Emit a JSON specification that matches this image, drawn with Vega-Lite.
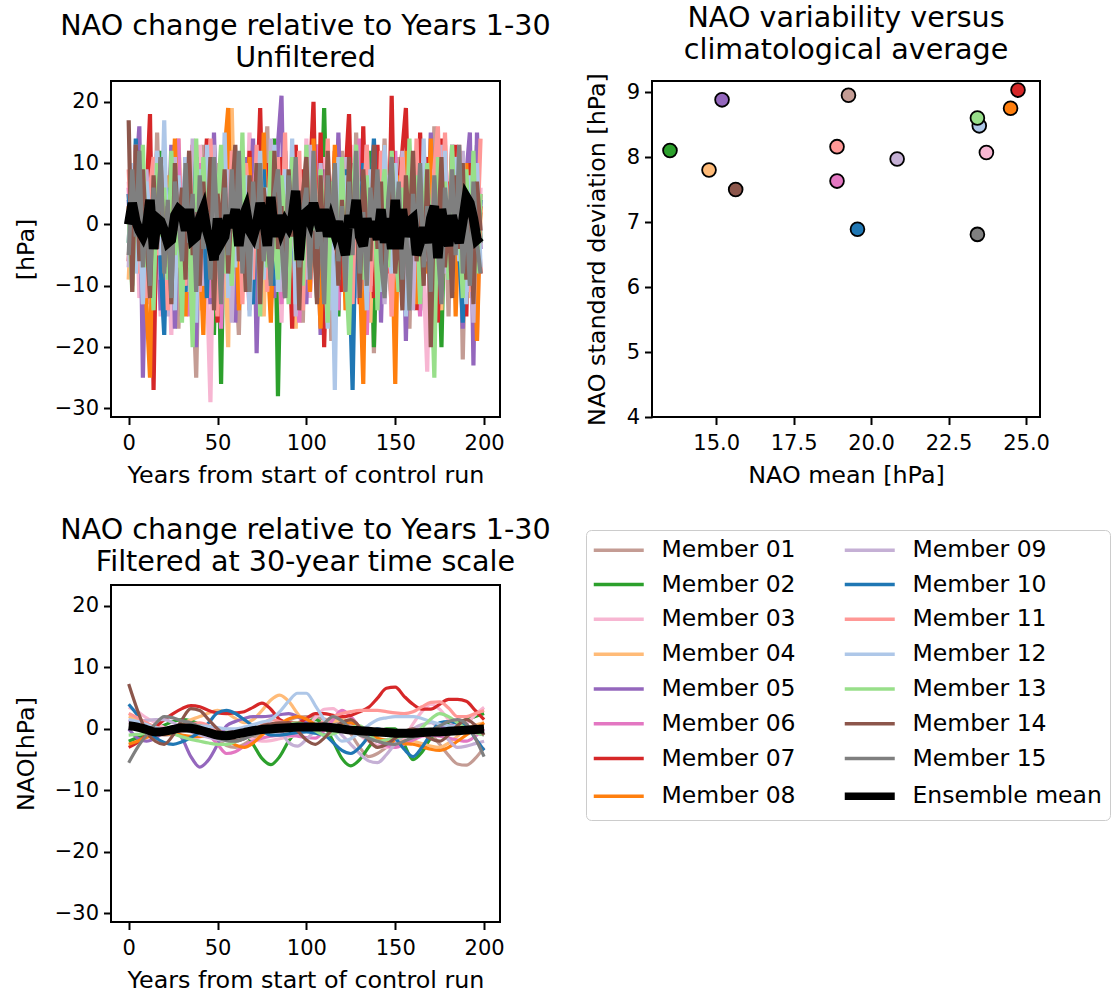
{
  "$schema": "https://vega.github.io/schema/vega-lite/v6.json",
  "background": "white",
  "padding": {"left": 13, "top": 3, "right": 5, "bottom": 2},
  "config": {
    "font": "DejaVu Sans",
    "view": {"stroke": "black", "strokeWidth": 2},
    "axis": {"grid": false, "domain": false, "tickColor": "black", "tickWidth": 2, "tickSize": 7.5, "labelFontSize": 21, "labelColor": "black", "titleFontSize": 23.8, "titleFontWeight": "normal", "titleColor": "black", "labelFlush": false, "labelOverlap": false},
    "axisX": {"labelPadding": 8, "titlePadding": 10},
    "axisY": {"labelPadding": 5, "titlePadding": 16},
    "title": {"fontSize": 28.6, "fontWeight": "normal", "color": "black", "offset": 8, "lineHeight": 32, "anchor": "middle"}
  },
  "datasets": {
    "unf": [{
      "t": [0,2,4,6,8,10,12,14,16,18,20,22,24,26,28,30,32,34,36,38,40,42,44,46,48,50,52,54,56,58,60,62,64,66,68,70,72,74,76,78,80,82,84,86,88,90,92,94,96,98,100,102,104,106,108,110,112,114,116,118,120,122,124,126,128,130,132,134,136,138,140,142,144,146,148,150,152,154,156,158,160,162,164,166,168,170,172,174,176,178,180,182,184,186,188,190,192,194,196,198],
      "Member 01": [5,-8,12,-3,-14,7,2,-10,15,-6,3,-12,9,1,-17,6,-4,11,-9,-25,4,13,-7,0,-15,10,-2,8,-11,14,-5,-18,6,2,-9,12,-3,-13,7,16,-8,1,-20,9,-4,5,-12,11,-1,-16,8,3,-7,13,-10,0,6,-19,10,-3,12,-8,2,-14,15,-5,7,-11,4,-21,9,-2,14,-6,-13,3,11,-9,1,-17,8,-4,13,-7,5,-12,16,-1,-10,6,-15,9,-3,12,-22,4,-8,10,-5,2],
      "Member 02": [-3,9,-6,13,-2,-11,6,1,-8,12,-14,4,-5,10,-1,-9,7,-4,11,-6,2,-12,8,-3,-18,5,-26,9,-2,6,-10,3,12,-7,1,-13,8,-5,10,-1,-8,14,-28,2,-9,6,-4,11,-3,7,-11,4,-6,13,-2,19,-7,0,9,-15,5,-3,10,-8,1,-12,7,-4,12,-20,3,-7,9,-1,-13,6,2,-10,11,-5,-2,8,-14,4,-6,12,-9,1,-20,7,-4,10,-7,3,-11,9,-1,-6,13,-3],
      "Member 03": [7,-5,10,-12,3,-1,14,-8,2,-15,9,-3,-18,6,12,-7,1,-10,8,-4,13,-2,-9,-29,5,-6,11,-1,-13,7,3,-11,9,-4,15,-8,0,-14,6,-2,10,-7,4,-16,8,-3,12,-9,1,-5,14,-12,6,-1,-8,11,-4,3,-17,9,-2,7,-10,13,-6,0,-13,8,-3,5,-9,12,-5,2,-15,10,-1,-7,6,-11,4,-3,11,-8,-24,7,-2,9,-12,14,-5,1,-10,8,-16,3,12,-6,-19,6],
      "Member 04": [-9,4,11,-6,2,-13,8,-1,6,-10,12,-4,3,-8,14,-2,-11,7,-5,9,-14,1,10,-7,5,-12,8,-3,-20,19,-6,2,-10,7,-1,13,-9,4,-15,6,10,-5,1,-12,8,-3,11,-17,5,-1,-8,12,-4,3,-13,9,-2,6,-11,14,-6,0,8,-14,4,-9,10,-3,-16,7,2,-10,12,-5,6,-12,1,9,-7,11,-4,3,-13,8,-1,10,-9,5,-14,13,-3,7,-10,2,11,-6,-12,8,-2,5],
      "Member 05": [4,-10,7,16,-25,3,12,-8,1,-14,9,-5,13,-17,2,-9,11,-3,6,-20,10,-6,1,-13,15,-4,-11,8,-2,12,-16,5,-8,11,-1,14,-21,3,9,-7,2,-12,13,21,-9,6,-15,10,-4,1,-13,12,-6,3,-18,9,-2,7,-10,15,-5,1,-14,10,-8,4,13,-12,2,-6,11,-16,5,-3,14,-9,0,8,-19,6,-2,12,-11,4,-7,15,-4,-14,9,1,-9,13,-6,3,-17,8,15,-23,15,-4],
      "Member 06": [6,-9,2,11,-5,-13,8,-2,12,-7,3,-11,9,-4,14,-8,1,-15,7,-3,10,-6,4,-12,8,-1,-17,5,13,-9,2,-7,11,-3,-14,6,9,-10,1,-5,12,-8,3,-13,7,-2,10,-6,-16,4,8,-11,1,13,-4,-9,6,-1,11,-14,5,-3,9,-12,2,14,-7,-18,4,10,-6,1,-10,7,-3,12,-8,5,-13,3,9,-5,-15,6,11,-2,-9,4,-12,8,-1,13,-7,2,-11,6,-4,10,-14,5],
      "Member 07": [-6,8,-3,12,-10,4,18,-27,9,-5,2,-12,11,-1,7,-15,6,-8,13,-4,-9,3,14,-7,1,-16,10,-2,5,-11,8,-13,4,-5,12,-9,2,19,-6,10,-14,6,-3,11,-8,1,-17,13,-4,9,-2,7,20,-10,15,-20,3,-6,12,-1,-11,8,18,-5,2,-13,16,-7,4,-12,13,-3,9,-8,21,-9,6,12,19,-4,8,-14,15,-2,11,-7,3,-16,14,-1,7,-10,13,-5,2,-15,10,-3,6,-8],
      "Member 08": [3,-9,12,-4,7,-13,-25,10,-2,6,-11,8,-1,14,-7,2,-15,9,-5,11,-3,-18,6,13,-10,1,-6,12,19,-8,4,-14,9,-2,11,-12,5,-7,15,-4,-16,7,2,-9,12,-5,10,-13,3,-1,8,-11,14,-3,-17,6,1,-8,13,-5,9,-14,4,-2,11,-7,-26,10,-4,7,-12,3,13,-6,1,-26,8,-9,12,-3,5,-13,10,-1,-8,14,-5,2,-11,9,-6,12,-15,4,-2,10,-9,7,-19,3],
      "Member 09": [-7,10,-2,5,-13,9,-4,1,12,-9,6,-15,3,11,-6,-1,8,-11,14,-3,2,-10,7,-5,13,-12,4,-1,9,-16,5,-3,12,-8,1,-13,10,-2,6,-10,14,-6,3,-11,8,-4,11,-15,2,7,-9,13,-1,-7,10,-3,5,-14,9,-5,1,11,-8,4,-12,7,-2,13,-10,3,-6,9,-13,2,8,-4,-11,12,-1,6,-14,5,10,-7,1,-12,9,-3,13,-8,4,-11,7,-2,12,-9,3,-16,8,-1],
      "Member 10": [5,-6,14,-2,8,-10,3,-4,9,-7,-18,6,-1,10,-5,2,-11,7,-3,11,-8,4,-12,8,1,-6,10,-4,3,-9,7,-2,11,-7,4,-13,6,-1,9,-5,2,-10,8,-3,12,-6,1,-9,5,-2,10,-7,3,-12,6,0,8,-5,-11,4,-3,9,-6,-27,5,-2,10,-8,3,14,-4,7,-10,2,8,-6,1,-12,6,-1,11,-5,3,-9,7,-3,-14,5,-1,8,-7,2,10,-4,-16,6,-2,9,-6,4],
      "Member 11": [9,-4,13,-8,2,-12,6,11,-5,-1,8,-14,4,10,-7,1,-10,12,-3,5,-11,7,-2,14,-6,-15,9,3,-8,12,-4,6,-13,10,1,-9,13,-5,4,-11,8,-2,11,-7,15,-10,3,-6,12,-14,5,-1,9,-12,7,-4,14,-8,2,-9,11,-3,6,-13,10,-6,1,13,-11,4,-7,12,-2,8,-15,6,-1,11,-9,3,-5,14,-10,7,2,-12,9,16,-4,15,-8,10,-2,13,-6,4,-11,9,-3,14],
      "Member 12": [-3,10,-8,4,-13,7,1,-10,12,-5,17,-9,3,-14,8,-2,11,-7,5,-16,9,-4,13,-1,-10,6,-6,15,-12,2,-7,11,-3,8,-15,4,-1,12,-9,6,-4,13,-11,2,9,-6,14,-13,1,-8,10,-3,6,-12,7,-2,-17,4,-27,11,-5,8,-10,3,12,-7,1,-14,9,-2,6,-11,13,-4,-8,10,-1,5,-15,11,-3,7,-12,14,-6,2,-10,8,-1,12,-9,4,11,-6,1,-13,8,-3,10,-7],
      "Member 13": [2,-11,8,-4,13,-7,1,-14,10,-2,6,-9,12,-5,3,-16,9,-1,-20,14,-6,11,-3,7,-12,4,13,-8,1,-10,9,-4,15,-11,5,-2,10,-15,6,-7,12,-3,-9,8,1,-13,11,-6,4,-10,13,-5,2,-12,9,-1,-16,7,3,-8,11,-6,-18,5,13,-2,-9,8,-4,10,-14,3,9,-7,12,-1,-11,6,-5,14,-3,8,-13,2,10,-6,-25,11,-2,7,-9,13,-4,1,-12,9,-6,12,-8,5],
      "Member 14": [17,-11,13,-6,9,-2,-12,8,-4,11,-7,3,-13,10,-1,6,-9,12,-5,2,-10,7,-3,11,-14,5,-1,9,-8,4,13,-6,1,-11,8,-3,10,-13,6,-1,-9,12,-4,3,-12,9,-2,7,-14,5,11,-5,-1,-13,8,-7,12,-2,5,-10,4,-8,11,-3,6,-12,9,-1,-6,13,-4,7,-11,2,10,-8,1,-14,8,-2,12,-6,3,-10,9,-20,5,-3,11,-7,2,-12,8,-4,10,-9,3,-13,7,-1],
      "Member 15": [-5,9,-2,12,-7,3,-10,6,-1,11,-8,4,-12,7,1,-6,10,-3,5,-11,8,-4,2,-9,11,-1,-13,6,-5,9,-2,12,-8,3,-11,7,-4,10,-6,1,-10,5,9,-3,-12,8,-1,11,-7,2,6,-9,12,-4,1,-13,8,-2,10,-6,3,-11,7,-5,12,-8,2,-10,6,-1,9,-6,-12,4,11,-3,7,-9,1,-14,5,-2,10,-7,3,-11,8,-4,-13,6,-1,9,-5,13,-8,2,-10,7,-3,-8],
      "Ensemble mean": [0,3.5,0.5,-1,-2,-0.5,4,-4,1,0.5,-1,-3,-2.5,1.5,2.5,2,-1,2.5,-2.5,-2,1,2.5,-1,-3,-5.8,1,-3,-2,1.5,-0.5,2.5,-3.5,1,2.5,-1,-2,0,3.5,1,-3.5,4.5,-2,1.5,-1,0.5,-0.5,1,5.5,-5.8,1.5,2,0.5,3.5,1,-1,2.5,-2,0.5,-1.5,0.5,-2.5,-5,1.5,-0.5,4,-2,-3.5,1,-2,0.5,-2.5,2.5,-3,1,-4,4,-4,2.5,-2,0.5,1,-5,-3,-0.5,-3,1,3,-5.5,2.5,-1,-3.5,1.5,-1,-3,0.5,4.5,3.5,1,-2.5,-2]
    }],
    "filt": [{
      "t": [0,5,10,15,20,25,30,35,40,45,50,55,60,65,70,75,80,85,90,95,100,105,110,115,120,125,130,135,140,145,150,155,160,165,170,175,180,185,190,195,200],
      "Member 01": [1,0.5,-0.3,-0.8,-1,-0.8,-0.4,-0.1,0,-0.7,-1.8,-2.7,-3,-2.5,-1.5,-0.6,0,0.7,1.4,1.9,2,1.9,1.6,1.3,1,-0.8,-3,-4.5,-4,-3,-2,-1,-0.3,0,-0.8,-2.5,-4.3,-5.7,-5.9,-4.8,-3],
      "Member 02": [-2,-1.4,-0.6,0,0.6,1.2,1.5,1.3,0.7,0,-0.5,-0.5,-0.1,-0.5,-2.5,-4.8,-5.8,-4.5,-2,-0.2,1,1.5,0.5,-2,-4.8,-6,-5,-3,-1,0,0,-2.5,-5,-3.8,-1.5,0,0.8,1.2,1.5,2,2.5],
      "Member 03": [3.5,2.8,1.8,1,0.2,-0.6,-1.2,-1.5,-1.3,-0.8,-0.3,0,-0.3,-1,-1.7,-2,-1.9,-1.6,-1.3,-1,0.2,1.8,3.2,3.3,2,0.5,-1,-2,-2.7,-3,-3,-1.5,0.8,2.8,4,3.2,1.5,0,0.8,2.3,3.5],
      "Member 04": [2,1.5,0.9,0.3,0,0.3,0.9,1.5,2,2.6,3,2.6,1.7,1,1.5,3,4.7,5.5,4.5,2.5,1,0.6,0.8,1.2,1.5,1,0.2,-0.8,-1.5,-1.8,-1.9,-2,-2,-2.4,-2.8,-3,-2.3,-1.2,0,0.6,1],
      "Member 05": [0,-1.5,-2,-1.5,-0.5,0,-1.5,-4.5,-6.2,-5,-2.5,0.5,1.2,1.7,2,2,2.1,2.3,2.5,2,1,0,-1,-0.5,0.5,1,0,-1.2,-2,-1.8,-1.5,-1.2,-1,-0.6,-0.2,0.2,0.5,0.3,-0.2,-0.6,-1],
      "Member 06": [1.5,0.8,-0.3,-1,-0.8,0,0.5,0.2,-0.4,-1,-2.5,-4,-3.7,-2.8,-2,-1.5,-1.2,-1,-1,-1.2,-1.4,-1.5,-0.3,1.5,3,2,0.3,-1,-2,-2.7,-3,-2.5,-1.8,-1.2,-1,-1.2,-1.5,-1.8,-2,-1.2,0],
      "Member 07": [-3,-2.2,-1,0.3,1.5,2.5,3.3,3.8,3.6,3,2.6,2.5,2.6,2.8,3.5,4.2,3.2,1.5,1,1,1.7,2.5,2.5,2.2,2,2.2,2.8,3.5,5,6.6,6.8,5.3,4,3.2,3.2,4,4.8,4.8,4.5,3,1.5],
      "Member 08": [-2.5,-2,-1.4,-1,-0.8,-0.8,-1,-1.2,-1.2,-1.1,-1,-1.7,-2.6,-3,-2.3,-1,0,0.8,1.6,2,1.6,0.7,0,0.3,0.8,1,0.3,-0.7,-1.5,-1.9,-2.2,-2.4,-2.5,-2.9,-3.3,-3.5,-3,-2,-1,0,1],
      "Member 09": [1,1.2,1.4,1.5,1.5,1,0.2,-0.5,-1,-1.4,-1.7,-1.9,-2,-1.4,-0.4,0.5,1,0,-2.2,-2.8,-1.7,-0.2,1,0.3,-1,-2.5,-4,-5.2,-5.5,-4.2,-2.4,-1,0,0.7,1,0,-1.8,-3,-2.8,-2.4,-2],
      "Member 10": [4,2.2,0,-1.4,-2.2,-2.5,-2.1,-1.4,-0.5,1,2.6,3,2.5,1.5,0.5,-0.3,-1,-1,-0.8,-0.6,-0.5,-0.7,-1,-2.2,-3.5,-4,-3,-1.3,0,-0.5,-1.5,-3.3,-4.5,-3,-0.8,1,1.2,0.9,0.5,-1.5,-3.5],
      "Member 11": [2.5,1.8,1,0.3,0,0.2,0.5,0.8,1,0.5,-0.5,-1.5,-2,-1.5,-0.5,0.7,1.5,1.2,0.7,0.2,0,0.5,1.2,2,2.5,2.8,3,3,3,2.8,2.6,2.5,2.8,3.6,4.3,4.4,3.4,2,2,2.5,3],
      "Member 12": [1.5,1.2,0.7,0.2,0,0,0.2,0.4,0.5,0.4,0.2,0,0,0.3,0.7,1.1,1.5,2.8,4.5,5.8,5.8,3.8,1.5,-0.5,-2,-1.6,-0.5,0.6,1.5,1.8,2,2,2,1.7,1.2,0.8,0.5,0.3,0.2,0.1,0],
      "Member 13": [-1,-0.9,-0.7,-0.6,-0.5,-0.8,-1.3,-1.7,-2,-2.3,-2.5,-2.5,-2.1,-1.5,-0.9,-0.5,-0.1,0.4,0.8,1,0.5,-0.3,-1,-0.8,-0.3,0.2,0.5,-0.7,-2,-1.8,-1.5,-1.2,-1,0.2,1.6,2.5,2,1,0,-0.6,-1],
      "Member 14": [7.3,3,-0.5,-2,-2.5,-1,1.5,3.3,3,1.5,0,-1.2,-1.9,-1.6,-0.5,0.5,0.8,1,1,-0.3,-1.8,-2.5,-1.5,0,1,1.5,0.3,-1.8,-3,-2.5,-1.5,-0.5,0,-0.7,-1.6,-2,-1,0.5,1.5,0.6,-1],
      "Member 15": [-5.5,-3,-1,0.8,2,1.8,1.3,1,0.3,-0.7,-1.5,-1.9,-2,-1.6,-1,-0.4,0,0.2,0.4,0.5,0.2,0,0.9,2,1.3,0,-1,-1.5,-2,-2.4,-2.5,-2,-1.4,-1,-0.3,0.5,1.2,1.5,0.8,-1.5,-4.5],
      "Ensemble mean": [0.5,0.3,-0.1,-0.5,-0.4,-0.1,0.2,0.1,-0.2,-0.6,-1,-1.1,-0.9,-0.6,-0.3,-0.1,0,0.1,0.2,0.3,0.3,0.3,0.3,0.2,0,-0.2,-0.3,-0.4,-0.5,-0.6,-0.7,-0.7,-0.7,-0.6,-0.5,-0.5,-0.4,-0.3,-0.2,-0.1,0]
    }],
    "scat": [
      {"member": "Member 01", "mean": 19.27, "std": 8.95},
      {"member": "Member 02", "mean": 13.51, "std": 8.10},
      {"member": "Member 03", "mean": 23.72, "std": 8.07},
      {"member": "Member 04", "mean": 14.77, "std": 7.80},
      {"member": "Member 05", "mean": 15.19, "std": 8.88},
      {"member": "Member 06", "mean": 18.90, "std": 7.63},
      {"member": "Member 07", "mean": 24.74, "std": 9.03},
      {"member": "Member 08", "mean": 24.50, "std": 8.75},
      {"member": "Member 09", "mean": 20.84, "std": 7.97},
      {"member": "Member 10", "mean": 19.56, "std": 6.89},
      {"member": "Member 11", "mean": 18.90, "std": 8.16},
      {"member": "Member 12", "mean": 23.49, "std": 8.48},
      {"member": "Member 13", "mean": 23.43, "std": 8.60},
      {"member": "Member 14", "mean": 15.63, "std": 7.50},
      {"member": "Member 15", "mean": 23.43, "std": 6.81}
    ]
  },
  "columns": 2,
  "bounds": "flush",
  "spacing": {"row": 168, "column": 152},
  "resolve": {"scale": {"color": "shared"}},
  "concat": [
    {
      "width": 389,
      "height": 336,
      "title": {"text": ["NAO change relative to Years 1-30", "Unfiltered"]},
      "data": {"name": "unf"},
      "transform": [
        {"flatten": ["t","Member 01","Member 02","Member 03","Member 04","Member 05","Member 06","Member 07","Member 08","Member 09","Member 10","Member 11","Member 12","Member 13","Member 14","Member 15","Ensemble mean"]},
        {"fold": ["Member 01","Member 02","Member 03","Member 04","Member 05","Member 06","Member 07","Member 08","Member 09","Member 10","Member 11","Member 12","Member 13","Member 14","Member 15","Ensemble mean"], "as": ["member","v"]}
      ],
      "encoding": {
        "x": {"field": "t", "type": "quantitative", "scale": {"domain": [-9.95, 208.95], "nice": false, "zero": false}, "axis": {"values": [0,50,100,150,200], "title": "Years from start of control run"}},
        "y": {"field": "v", "type": "quantitative", "scale": {"domain": [-31.4, 23.4], "nice": false, "zero": false}, "axis": {"values": [-30,-20,-10,0,10,20], "title": "[hPa]"}},
        "color": {
          "field": "member", "type": "nominal",
          "scale": {
            "domain": ["Member 01","Member 02","Member 03","Member 04","Member 05","Member 06","Member 07","Member 08","Member 09","Member 10","Member 11","Member 12","Member 13","Member 14","Member 15","Ensemble mean"],
            "range": ["#c49c94","#2ca02c","#f7b6d2","#ffbb78","#9467bd","#e377c2","#d62728","#ff7f0e","#c5b0d5","#1f77b4","#ff9896","#aec7e8","#98df8a","#8c564b","#7f7f7f","#000000"]
          },
          "legend": {
            "title": null, "orient": "none", "legendX": 475, "legendY": 449, "columns": 2,
            "symbolType": "stroke", "symbolSize": 2500, "symbolStrokeWidth": 3.5, "symbolOffset": 13,
            "labelFontSize": 23.5, "labelColor": "black", "labelOffset": 31, "labelLimit": 400,
            "rowPadding": 9.8, "columnPadding": 33, "padding": 8,
            "strokeColor": "#cccccc", "fillColor": "white", "cornerRadius": 5,
            "encode": {"symbols": {"update": {"strokeWidth": {"signal": "datum.value === 'Ensemble mean' ? 7.5 : 3.5"}}}}
          }
        }
      },
      "layer": [
        {"transform": [{"filter": "datum.member !== 'Ensemble mean'"}], "mark": {"type": "line", "strokeWidth": 4.2, "clip": true}},
        {"transform": [{"filter": "datum.member === 'Ensemble mean'"}], "mark": {"type": "line", "strokeWidth": 9.5, "clip": true}}
      ]
    },
    {
      "width": 388,
      "height": 336,
      "title": {"text": ["NAO variability versus", "climatological average"]},
      "data": {"name": "scat"},
      "mark": {"type": "circle", "size": 190, "opacity": 1, "stroke": "black", "strokeWidth": 1.8},
      "encoding": {
        "x": {"field": "mean", "type": "quantitative", "scale": {"domain": [12.93, 25.45], "nice": false, "zero": false}, "axis": {"values": [15,17.5,20,22.5,25], "format": ".1f", "title": "NAO mean [hPa]"}},
        "y": {"field": "std", "type": "quantitative", "scale": {"domain": [4, 9.17], "nice": false, "zero": false}, "axis": {"values": [4,5,6,7,8,9], "title": "NAO standard deviation [hPa]", "titlePadding": 17}},
        "fill": {
          "field": "member", "type": "nominal", "legend": null,
          "scale": {
            "domain": ["Member 01","Member 02","Member 03","Member 04","Member 05","Member 06","Member 07","Member 08","Member 09","Member 10","Member 11","Member 12","Member 13","Member 14","Member 15"],
            "range": ["#c49c94","#2ca02c","#f7b6d2","#ffbb78","#9467bd","#e377c2","#d62728","#ff7f0e","#c5b0d5","#1f77b4","#ff9896","#aec7e8","#98df8a","#8c564b","#7f7f7f"]
          }
        }
      }
    },
    {
      "width": 389,
      "height": 337,
      "title": {"text": ["NAO change relative to Years 1-30", "Filtered at 30-year time scale"]},
      "data": {"name": "filt"},
      "transform": [
        {"flatten": ["t","Member 01","Member 02","Member 03","Member 04","Member 05","Member 06","Member 07","Member 08","Member 09","Member 10","Member 11","Member 12","Member 13","Member 14","Member 15","Ensemble mean"]},
        {"fold": ["Member 01","Member 02","Member 03","Member 04","Member 05","Member 06","Member 07","Member 08","Member 09","Member 10","Member 11","Member 12","Member 13","Member 14","Member 15","Ensemble mean"], "as": ["member","v"]}
      ],
      "encoding": {
        "x": {"field": "t", "type": "quantitative", "scale": {"domain": [-9.95, 208.95], "nice": false, "zero": false}, "axis": {"values": [0,50,100,150,200], "title": "Years from start of control run"}},
        "y": {"field": "v", "type": "quantitative", "scale": {"domain": [-31.4, 23.4], "nice": false, "zero": false}, "axis": {"values": [-30,-20,-10,0,10,20], "title": "NAO[hPa]"}},
        "color": {
          "field": "member", "type": "nominal", "legend": null,
          "scale": {
            "domain": ["Member 01","Member 02","Member 03","Member 04","Member 05","Member 06","Member 07","Member 08","Member 09","Member 10","Member 11","Member 12","Member 13","Member 14","Member 15","Ensemble mean"],
            "range": ["#c49c94","#2ca02c","#f7b6d2","#ffbb78","#9467bd","#e377c2","#d62728","#ff7f0e","#c5b0d5","#1f77b4","#ff9896","#aec7e8","#98df8a","#8c564b","#7f7f7f","#000000"]
          }
        }
      },
      "layer": [
        {"transform": [{"filter": "datum.member !== 'Ensemble mean'"}], "mark": {"type": "line", "strokeWidth": 3.2, "interpolate": "monotone", "clip": true}},
        {"transform": [{"filter": "datum.member === 'Ensemble mean'"}], "mark": {"type": "line", "strokeWidth": 9, "interpolate": "monotone", "clip": true}}
      ]
    }
  ]
}
